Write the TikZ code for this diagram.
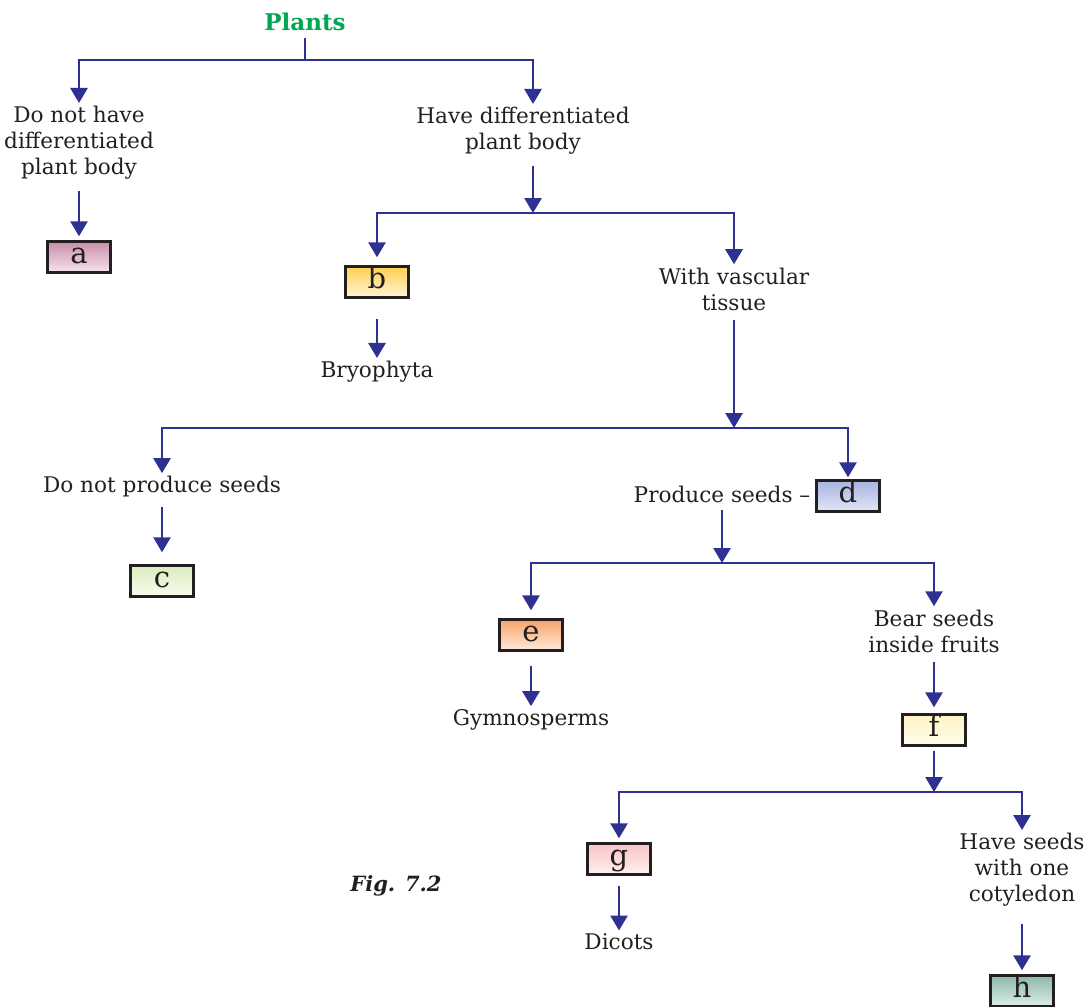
\documentclass[tikz,border=0pt]{standalone}
\usepackage{fontspec}
\setmainfont{DejaVu Serif}
\usepackage{xcolor}
\usetikzlibrary{arrows.meta}

\definecolor{flowblue}{RGB}{46,49,146}
\definecolor{plantgreen}{RGB}{0,166,81}
\definecolor{inkgray}{RGB}{35,31,32}
\definecolor{aTop}{RGB}{200,140,170}  \definecolor{aBot}{RGB}{246,228,237}
\definecolor{bTop}{RGB}{255,208,80}   \definecolor{bBot}{RGB}{255,246,216}
\definecolor{cTop}{RGB}{220,236,190}  \definecolor{cBot}{RGB}{248,252,238}
\definecolor{dTop}{RGB}{168,178,224}  \definecolor{dBot}{RGB}{226,230,246}
\definecolor{eTop}{RGB}{245,162,106}  \definecolor{eBot}{RGB}{255,236,218}
\definecolor{fTop}{RGB}{255,243,196}  \definecolor{fBot}{RGB}{255,253,236}
\definecolor{gTop}{RGB}{248,196,196}  \definecolor{gBot}{RGB}{255,240,240}
\definecolor{hTop}{RGB}{138,184,168}  \definecolor{hBot}{RGB}{222,238,232}

\begin{document}
\begin{tikzpicture}[x=0.5pt,y=-0.5pt,
    txt/.style={align=center,inner sep=1.5pt,text=inkgray,font=\fontsize{10.8}{13}\selectfont},
    box/.style={draw=inkgray,line width=1.2pt,minimum width=31.5pt,minimum height=15.5pt,
      inner sep=0pt,text height=9pt,text depth=2.8pt,text=inkgray,font=\fontsize{14.5}{14.5}\selectfont},
    link/.style={draw=flowblue,line width=1.4pt},
    arr/.style={link,-{Triangle[width=8.5pt,length=7.5pt]}}]
        \useasboundingbox (0,0) rectangle (1090,1006);

        % Drawing the first split
        \node[text=plantgreen,font=\bfseries\fontsize{11.5}{14}\selectfont] (plants) at (305,22) {Plants};
        \coordinate (j1) at (305,60);
        \node[txt] (nodiff) at (79,143) {Do not have\\differentiated\\plant body};
        \node[txt] (hasdiff) at (523,131) {Have differentiated\\plant body};
        \node[box,top color=aTop,bottom color=aBot] (a) at (79,257) {a};

        % Drawing the vascular split
        \coordinate (j2) at (533,213);
        \node[box,top color=bTop,bottom color=bBot] (b) at (377,282) {b};
        \node[txt] (bryo) at (377,372) {Bryophyta};
        \node[txt] (vasc) at (734,289) {With vascular\\tissue};

        % Drawing the seed split
        \coordinate (j3) at (734,428);
        \node[txt] (noseed) at (162,487) {Do not produce seeds};
        \node[box,top color=cTop,bottom color=cBot] (c) at (162,581) {c};
        \node[txt] (seeds) at (722,494) {Produce seeds –};
        \node[box,top color=dTop,bottom color=dBot] (d) at (848,496) {d};

        % Drawing the fruit split
        \coordinate (j4) at (722,563);
        \node[box,top color=eTop,bottom color=eBot] (e) at (531,635) {e};
        \node[txt] (gymno) at (531,720) {Gymnosperms};
        \node[txt] (fruits) at (934,631) {Bear seeds\\inside fruits};
        \node[box,top color=fTop,bottom color=fBot] (f) at (934,730) {f};

        % Drawing the cotyledon split
        \coordinate (j5) at (934,792);
        \node[box,top color=gTop,bottom color=gBot] (g) at (619,859) {g};
        \node[txt] (dicots) at (619,942) {Dicots};
        \node[txt] (mono) at (1022,870) {Have seeds\\with one\\cotyledon};
        \node[box,top color=hTop,bottom color=hBot] (h) at (1022,991) {h};
        \node[text=inkgray,font=\bfseries\itshape\fontsize{10.5}{13}\selectfont] (fig) at (396,886) {Fig. 7.2};

        % Connectors
        \draw[link] (plants) -- (j1);
        \draw[arr] (j1) -| (nodiff);
        \draw[arr] (j1) -| (j2 |- hasdiff.north);
        \draw[arr,shorten <=4pt,shorten >=2pt] (nodiff) -- (a);
        \draw[arr,shorten <=4pt] (j2 |- hasdiff.south) -- (j2);
        \draw[arr,shorten >=4pt] (j2) -| (b);
        \draw[arr] (j2) -| (vasc);
        \draw[arr,shorten <=10pt] (b) -- (bryo);
        \draw[arr,shorten <=3pt] (vasc) -- (j3);
        \draw[arr] (j3) -| (noseed);
        \draw[arr,shorten >=1pt] (j3) -| (d);
        \draw[arr,shorten <=3pt,shorten >=6pt] (noseed) -- (c);
        \draw[arr,shorten <=2pt] (seeds) -- (j4);
        \draw[arr,shorten >=4pt] (j4) -| (e);
        \draw[arr] (j4) -| (fruits);
        \draw[arr,shorten <=7pt] (e) -- (gymno);
        \draw[arr,shorten <=3pt,shorten >=3pt] (fruits) -- (f);
        \draw[arr,shorten <=2pt] (f) -- (j5);
        \draw[arr,shorten >=2pt] (j5) -| (g);
        \draw[arr] (j5) -| (mono);
        \draw[arr,shorten <=5pt] (g) -- (dicots);
        \draw[arr,shorten <=7pt,shorten >=2pt] (mono) -- (h);
\end{tikzpicture}
\end{document}
